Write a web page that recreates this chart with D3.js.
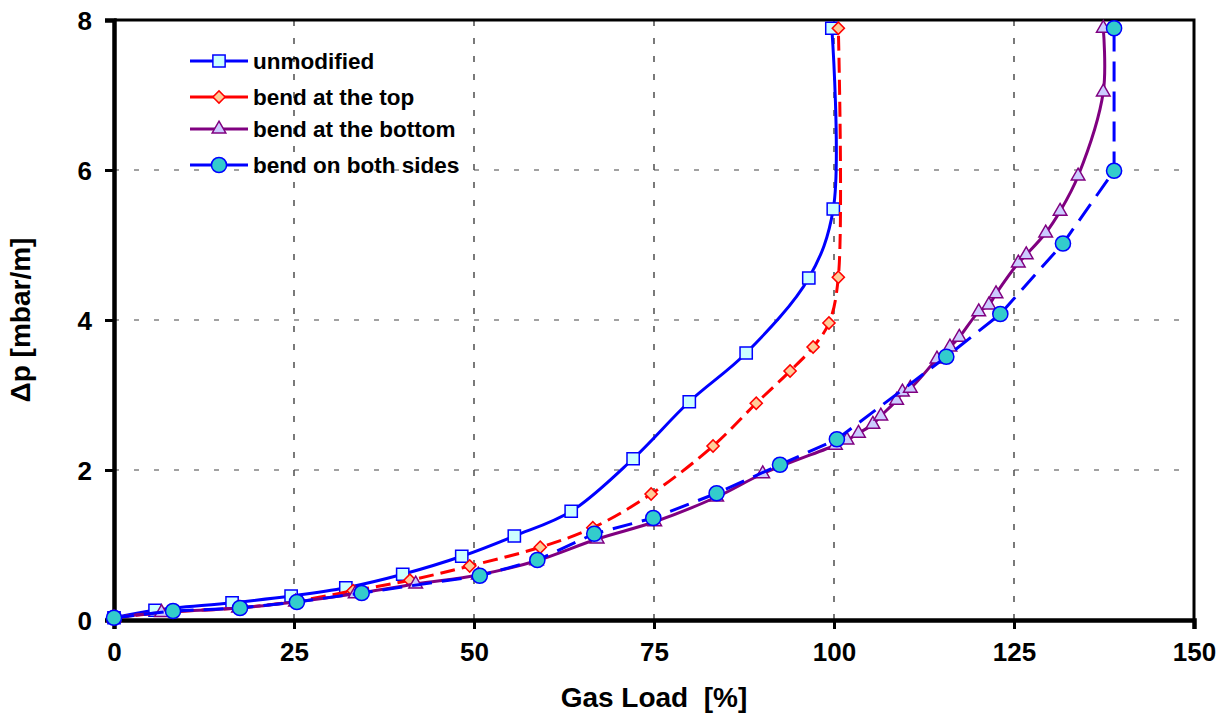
<!DOCTYPE html>
<html>
<head>
<meta charset="utf-8">
<script src="https://cdn.jsdelivr.net/npm/d3@7"></script>
<style>
  body { margin: 0; background: #fff; }
  text { font-family: "Liberation Sans", Arial, sans-serif; font-weight: bold; fill: #000; white-space: pre; }
</style>
</head>
<body>
<div id="chart"></div>
<script>
// Series values (x = gas load %, y = pressure drop mbar/m)
const unmodX = [0, 5.7, 16.4, 24.6, 32.2, 40.1, 48.3, 55.6, 63.5, 72.1, 79.9, 87.8, 96.5, 99.9, 99.7];
const unmodY = [0.03, 0.13, 0.23, 0.32, 0.43, 0.61, 0.85, 1.12, 1.45, 2.15, 2.91, 3.56, 4.56, 5.48, 7.89];

const topX = [0, 8, 17.3, 25.3, 33.2, 41.1, 49.4, 59.2, 66.5, 74.6, 83.2, 89.2, 93.9, 97.1, 99.3, 100.6, 100.6];
const topY = [0.03, 0.11, 0.16, 0.25, 0.39, 0.53, 0.72, 0.97, 1.23, 1.68, 2.32, 2.89, 3.32, 3.64, 3.96, 4.57, 7.89];

const bottomX = [0, 6.6, 17.3, 25.2, 33.5, 41.9, 50.6, 58.7, 67.1, 75.1, 83.7, 90.1, 100.2, 101.8, 103.4, 105.4, 106.5,
    108.7, 109.5, 110.6, 114.3, 116.1, 117.4, 120.1, 121.5, 122.5, 125.6, 126.7, 129.4, 131.4, 133.9, 137.4, 137.4];
const bottomY = [0.03, 0.1, 0.16, 0.24, 0.35, 0.48, 0.6, 0.79, 1.08, 1.31, 1.64, 1.95, 2.33, 2.4, 2.49, 2.61, 2.72,
    2.93, 3.04, 3.09, 3.48, 3.64, 3.77, 4.11, 4.2, 4.35, 4.76, 4.87, 5.16, 5.45, 5.92, 7.04, 7.89];

const bothX = [0, 8.2, 17.5, 25.4, 34.4, 50.8, 58.8, 66.7, 74.9, 83.7, 92.5, 100.4, 115.6, 123.1, 131.8, 138.9, 138.9];
const bothY = [0.03, 0.12, 0.16, 0.24, 0.36, 0.59, 0.8, 1.15, 1.36, 1.69, 2.07, 2.41, 3.51, 4.08, 5.02, 5.99, 7.89];

const seriesNames = ["unmodified", "bend at the top", "bend at the bottom", "bend on both sides"];
const xTicks = [0, 25, 50, 75, 100, 125, 150];
const yTicks = [0, 2, 4, 6, 8];

// Set the margins
let margin = {top: 20, right: 34, bottom: 95, left: 114};
let width = 1228 - margin.left - margin.right;
let height = 715 - margin.top - margin.bottom;

let svg = d3.select("#chart").append("svg")
    .attr("width", 1228)
    .attr("height", 715)
    .append("g")
    .attr("transform", "translate(" + margin.left + "," + margin.top + ")");

const xScale = d3.scaleLinear().domain([0, 150]).range([0, width]);
const yScale = d3.scaleLinear().domain([0, 8]).range([height, 0]);

// Grid lines
svg.append("g")
    .selectAll("line")
    .data(xTicks.filter(d => d > 0 && d < 150))
    .join("line")
    .attr("x1", d => xScale(d)).attr("x2", d => xScale(d))
    .attr("y1", 0).attr("y2", height)
    .attr("stroke", "#222")
    .attr("stroke-width", 1.2)
    .attr("stroke-dasharray", "6,12");

svg.append("g")
    .selectAll("line")
    .data(yTicks.filter(d => d > 0 && d < 8))
    .join("line")
    .attr("x1", 0).attr("x2", width)
    .attr("y1", d => yScale(d)).attr("y2", d => yScale(d))
    .attr("stroke", "#444")
    .attr("stroke-width", 1.2)
    .attr("stroke-dasharray", "5,15");

// Frame on the top and right
svg.append("path")
    .attr("d", `M0,0H${width}V${height}`)
    .attr("fill", "none")
    .attr("stroke", "#000")
    .attr("stroke-width", 3);

// Axes
const xAxis = d3.axisBottom(xScale).tickValues(xTicks).tickSize(9).tickPadding(14);
const yAxis = d3.axisLeft(yScale).tickValues(yTicks).tickSize(9).tickPadding(13);

let gx = svg.append("g")
    .attr("class", "x-axis")
    .attr("transform", `translate(0, ${height})`)
    .call(xAxis);

let gy = svg.append("g")
    .attr("class", "y-axis")
    .call(yAxis);

[gx, gy].forEach(g => {
    g.select(".domain").attr("stroke-width", 4.5).attr("stroke", "#000");
    g.selectAll(".tick line").attr("stroke-width", 3).attr("stroke", "#000");
    g.selectAll(".tick text")
        .attr("font-size", 26)
        .attr("font-family", "Liberation Sans, Arial, sans-serif")
        .attr("font-weight", "bold")
        .attr("fill", "#000");
});
gy.selectAll(".tick text").attr("dy", "0.36em");

// Axis titles
svg.append("text")
    .attr("x", xScale(75))
    .attr("y", height + 87)
    .attr("text-anchor", "middle")
    .attr("font-size", 28)
    .text("Gas Load  [%]");

svg.append("text")
    .attr("transform", `translate(${-84}, ${height / 2}) rotate(-90)`)
    .attr("text-anchor", "middle")
    .attr("font-size", 28)
    .text("\u0394p [mbar/m]");

// Marker shapes
const squarePath = d3.symbol().type(d3.symbolSquare).size(150)();
const diamondPath = d3.symbol().type(d3.symbolSquare).size(74)();
const trianglePath = d3.symbol().type(d3.symbolTriangle).size(80)();
const circlePath = d3.symbol().type(d3.symbolCircle).size(180)();

const series = [
    {name: seriesNames[0], xs: unmodX, ys: unmodY, color: "#0000FF", dash: null, curve: d3.curveCatmullRom.alpha(0.5),
     marker: squarePath, rot: 0, fill: "#CCFFFF", mstroke: "#0000FF"},
    {name: seriesNames[1], xs: topX, ys: topY, color: "#FF0000", dash: "15,7", curve: d3.curveCatmullRom.alpha(0.5),
     marker: diamondPath, rot: 45, fill: "#FFCC99", mstroke: "#FF0000"},
    {name: seriesNames[2], xs: bottomX, ys: bottomY, color: "#800080", dash: null, curve: d3.curveCatmullRom.alpha(0.5),
     marker: trianglePath, rot: 0, fill: "#CCCCFF", mstroke: "#800080"},
    {name: seriesNames[3], xs: bothX, ys: bothY, color: "#0000FF", dash: "20,10", curve: d3.curveLinear,
     marker: circlePath, rot: 0, fill: "#33CCCC", mstroke: "#0000FF"}
];

series.forEach(s => {
    const pts = s.xs.map((x, i) => ({x: x, y: s.ys[i]}));
    const line = d3.line()
        .x(d => xScale(d.x))
        .y(d => yScale(d.y))
        .curve(s.curve);

    svg.append("path")
        .datum(pts)
        .attr("fill", "none")
        .attr("stroke", s.color)
        .attr("stroke-width", 3)
        .attr("stroke-dasharray", s.dash)
        .attr("d", line);

    svg.append("g")
        .selectAll("path")
        .data(pts)
        .join("path")
        .attr("d", s.marker)
        .attr("transform", d => `translate(${xScale(d.x)},${yScale(d.y)}) rotate(${s.rot})`)
        .attr("fill", s.fill)
        .attr("stroke", s.mstroke)
        .attr("stroke-width", 1.5);
});

// Legend
const legendRows = [41, 77, 109, 145];
let legend = svg.append("g").attr("transform", "translate(76, 0)");
series.forEach((s, i) => {
    let row = legend.append("g").attr("transform", `translate(0, ${legendRows[i]})`);
    row.append("line")
        .attr("x1", 0).attr("x2", 58)
        .attr("stroke", s.color)
        .attr("stroke-width", 3);
    row.append("path")
        .attr("d", s.marker)
        .attr("transform", `translate(29,0) rotate(${s.rot})`)
        .attr("fill", s.fill)
        .attr("stroke", s.mstroke)
        .attr("stroke-width", 1.5);
    row.append("text")
        .attr("x", 63)
        .attr("dy", "0.35em")
        .attr("font-size", 22.5)
        .text(s.name);
});
</script>
</body>
</html>
